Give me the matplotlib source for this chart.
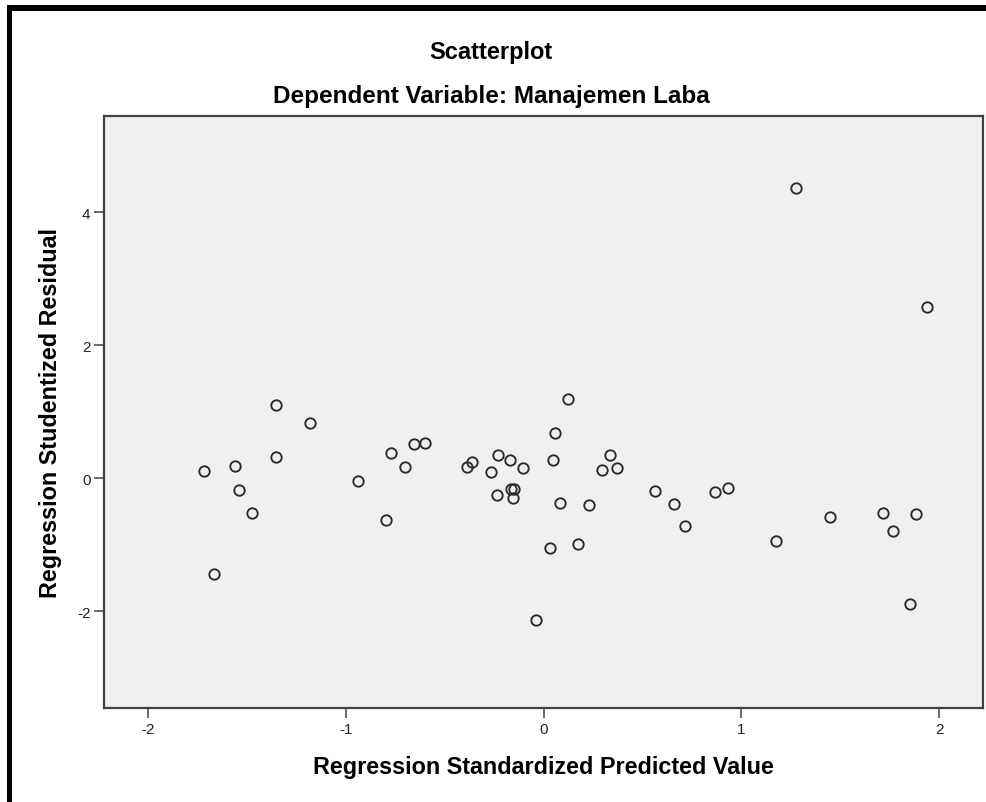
import matplotlib
matplotlib.use("Agg")
import matplotlib.pyplot as plt
from matplotlib.patches import Rectangle

pred_std = [-1.718, -1.563, -1.540, -1.475, -1.666, -1.356, -1.356, -1.182,
            -0.941, -0.799, -0.772, -0.702, -0.655, -0.600, -0.389, -0.364,
            -0.230, -0.170, -0.265, -0.103, -0.238, -0.166, -0.150, -0.157,
            -0.039, 0.124, 0.057, 0.046, 0.081, 0.229, 0.030, 0.175,
            0.335, 0.295, 0.372, 0.563, 0.659, 0.716, 0.866, 0.934,
            1.177, 1.448, 1.718, 1.882, 1.768, 1.853, 1.937, 1.276]
resid_stud = [0.105, 0.181, -0.172, -0.518, -1.435, 1.103, 0.325, 0.827,
              -0.041, -0.627, 0.385, 0.170, 0.512, 0.536, 0.170, 0.245,
              0.346, 0.275, 0.099, 0.155, -0.251, -0.161, -0.161, -0.301,
              -2.136, 1.198, 0.686, 0.271, -0.367, -0.397, -1.044, -0.988,
              0.346, 0.125, 0.155, -0.196, -0.391, -0.722, -0.202, -0.150,
              -0.943, -0.587, -0.522, -0.542, -0.797, -1.896, 2.582, 4.372]

x_ticks = [-2, -1, 0, 1, 2]
y_ticks = [-2, 0, 2, 4]

title1 = "Scatterplot"
title2 = "Dependent Variable: Manajemen Laba"
x_label = "Regression Standardized Predicted Value"
y_label = "Regression Studentized Residual"

plt.rcParams['font.family'] = ['Liberation Sans', 'DejaVu Sans']

W, H = 987, 803
fig = plt.figure(figsize=(W / 100, H / 100), dpi=100)
fig.patch.set_facecolor('white')

# black frame lines (left and top)
fig.patches.append(Rectangle((7 / W, 0), 5 / W, (H - 6) / H, transform=fig.transFigure,
                             facecolor='black', edgecolor='none'))
fig.patches.append(Rectangle((7 / W, (H - 12) / H), 1 - 7 / W, 6 / H, transform=fig.transFigure,
                             facecolor='black', edgecolor='none'))

left, right, top, bottom = 104, 983, 117, 709
ax = fig.add_axes([left / W, (H - bottom) / H, (right - left) / W, (bottom - top) / H])
ax.set_facecolor('#f0f0f0')

ax.plot(pred_std, resid_stud, linestyle='none', marker='o', markersize=7.5,
        markerfacecolor='none', markeredgecolor='#2a2a2a', markeredgewidth=1.35)

ax.set_xlim(-2.224, 2.222)
ax.set_ylim(-3.456, 5.45)
ax.set_xticks(x_ticks)
ax.set_yticks(y_ticks)
ax.set_xticklabels([str(t) for t in x_ticks])
ax.set_yticklabels([str(t) for t in y_ticks])

for s in ax.spines.values():
    s.set_color('#404040')
    s.set_linewidth(1.6)

ax.tick_params(axis='both', direction='out', length=7.2, width=1.1, color='#404040',
               labelsize=11, labelcolor='#222222')
ax.tick_params(axis='x', pad=3)
ax.tick_params(axis='y', pad=2.5)

ax.set_xlabel(x_label, fontsize=16.8, fontweight='bold', va='center')
ax.xaxis.set_label_coords(0.5, (bottom - 768) / (bottom - top))
ax.set_ylabel(y_label, fontsize=16.8, fontweight='bold', va='center')
ax.yaxis.set_label_coords((51 - left) / (right - left), 0.5)

fig.text(491 / W, 1 - 52 / H, title1, ha='center', va='center', fontsize=17, fontweight='bold')
fig.text(491 / W, 1 - 97 / H, title2, ha='center', va='center', fontsize=17.5, fontweight='bold')

fig.savefig('out.png', dpi=100, facecolor='white')
